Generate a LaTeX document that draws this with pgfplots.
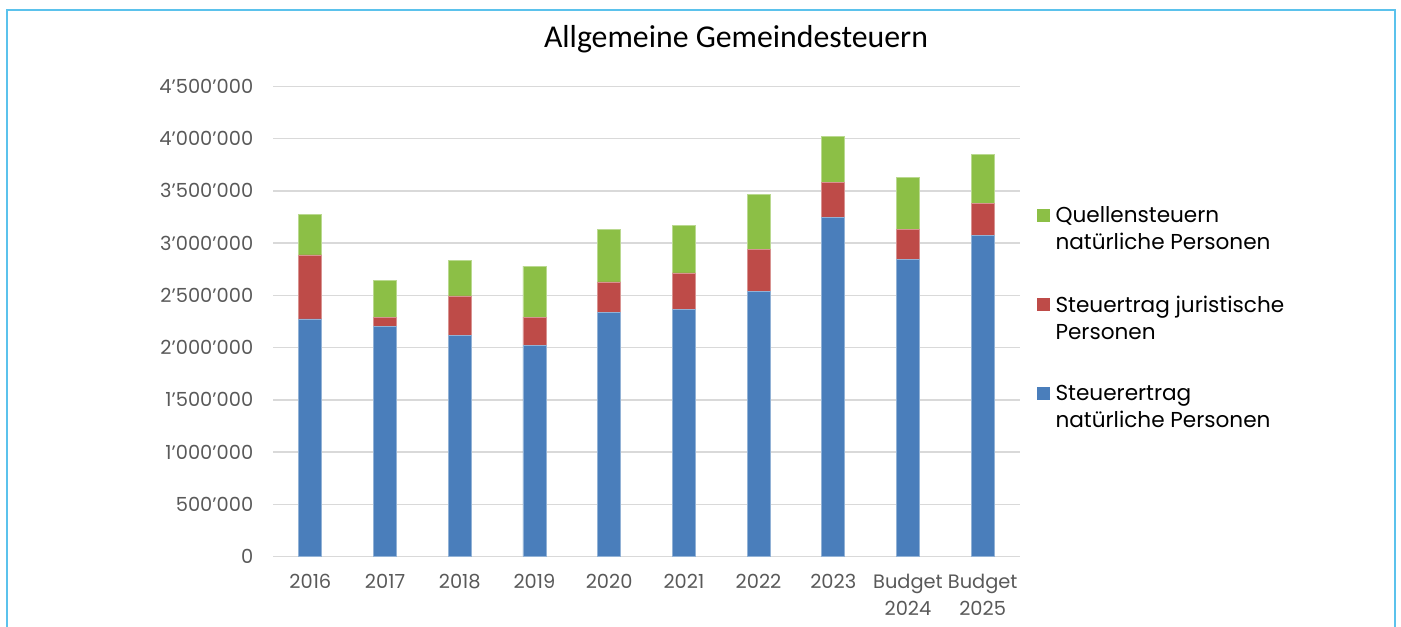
\documentclass[border=0pt]{standalone}
\usepackage{fontspec}
\setmainfont{Poppins}
\newfontfamily\titlefont{Carlito}
\usepackage{pgfplots}
\pgfplotsset{compat=1.18}
\definecolor{cblue}{HTML}{4A7EBB}
\definecolor{cred}{HTML}{BE4B48}
\definecolor{cgreen}{HTML}{8CBF46}
\definecolor{cgrid}{HTML}{D9D9D9}
\definecolor{ctick}{HTML}{595959}
\definecolor{cframe}{HTML}{5BC2EC}
\begin{document}
\begin{tikzpicture}
\path[use as bounding box] (0,0) rectangle (700.5pt,313pt);
\draw[cframe, line width=0.8pt] (3.5pt,-5pt) -- (3.5pt,308pt) -- (697.5pt,308pt) -- (697.5pt,-5pt);
\node[anchor=base, inner sep=0pt, font=\titlefont\fontsize{15.9}{18}\selectfont] at (368pt,289pt) {Allgemeine Gemeindesteuern};
\begin{axis}[
  at={(136.5pt,34.75pt)}, anchor=south west,
  scale only axis, width=373.5pt, height=235.1pt,
  ybar stacked, bar width=11.5pt,
  xmin=-0.5, xmax=9.5, ymin=0, ymax=4500000,
  xtick={0,1,2,3,4,5,6,7,8,9},
  xticklabels={2016,2017,2018,2019,2020,2021,2022,2023,Budget\\2024,Budget\\2025},
  ytick={0,500000,1000000,1500000,2000000,2500000,3000000,3500000,4000000,4500000},
  yticklabels={0,500’000,1’000’000,1’500’000,2’000’000,2’500’000,3’000’000,3’500’000,4’000’000,4’500’000},
  scaled y ticks=false,
  ymajorgrids, grid style={cgrid, line width=0.75pt},
  axis line style={draw=none},
  major tick length=0pt,
  tick label style={ctick, font=\fontsize{9.7}{13.3}\selectfont, inner sep=0pt},
  xticklabel style={align=center, yshift=-8.75pt},
  yticklabel style={xshift=-9.7pt},
  reverse legend,
  legend image code/.code={\path[#1, draw=none] (0pt,3.75pt) rectangle (6.5pt,10.25pt); \path (9pt,0pt);},
  legend style={draw=none, fill=none, at={(1.0224,0.745)}, anchor=north west, inner sep=0pt, row sep=21.5pt,
    nodes={align=left, inner sep=0pt, font=\fontsize{10.8}{13.5}\selectfont, text=black}},
  legend cell align=left,
]
\addplot[fill=cblue, draw=cblue!60!white, line width=0.4pt] coordinates {
 (0,2273000) (1,2200000) (2,2114000) (3,2021000) (4,2334000) (5,2366000) (6,2538000) (7,3247000) (8,2842000) (9,3075000)};
\addplot[fill=cred, draw=cred!60!white, line width=0.4pt] coordinates {
 (0,613000) (1,86000) (2,380000) (3,271000) (4,294000) (5,348000) (6,400000) (7,329000) (8,287000) (9,303000)};
\addplot[fill=cgreen, draw=cgreen!60!white, line width=0.4pt] coordinates {
 (0,387000) (1,355000) (2,341000) (3,486000) (4,501000) (5,450000) (6,523000) (7,447000) (8,498000) (9,470000)};
\legend{Steuerertrag\\natürliche Personen, Steuertrag juristische\\Personen, Quellensteuern\\natürliche Personen}
\end{axis}
\end{tikzpicture}
\end{document}
